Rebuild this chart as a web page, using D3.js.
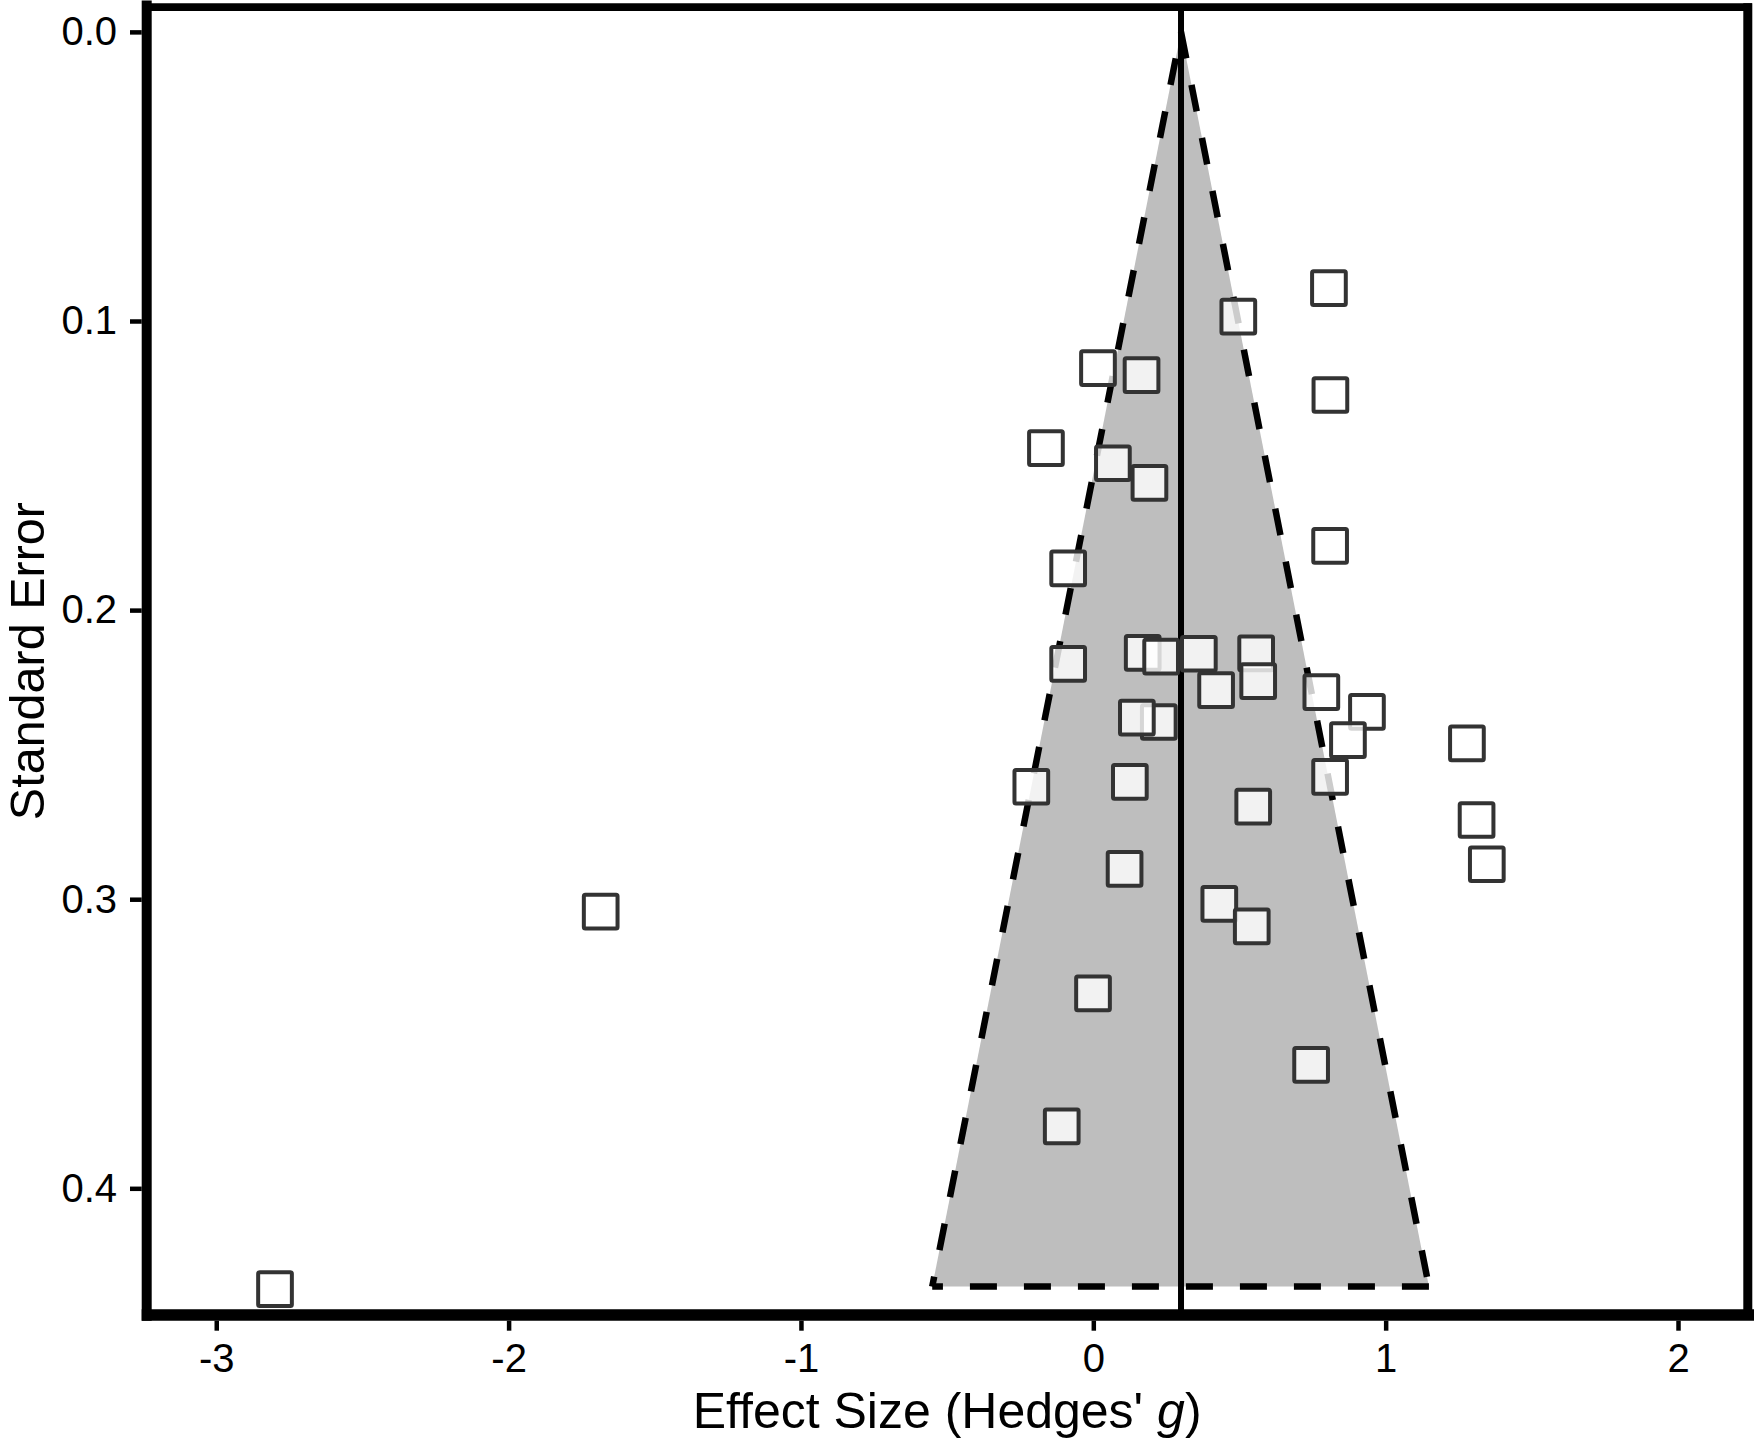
<!DOCTYPE html>
<html>
<head>
<meta charset="utf-8">
<script src="https://cdn.jsdelivr.net/npm/d3@7"></script>
<style>
  html, body { margin: 0; padding: 0; background: #ffffff; }
  svg { display: block; }
  text { font-family: "Liberation Sans", Arial, Helvetica, sans-serif; fill: #000; }
</style>
</head>
<body>
<svg id="chart" width="1754" height="1442"></svg>
<script>
// ---- data ----
const effectSize = [0.806, 0.496, 0.016, 0.165, 0.811, -0.162, 0.067, 0.192, 0.810, -0.086,
                    0.169, 0.232, 0.361, 0.557, -0.086, 0.420, 0.564, 0.780, 0.936, 0.224,
                    0.149, 0.871, 1.278, -0.212, 0.125, 0.810, 0.547, 1.311, 1.346, 0.107,
                    0.431, 0.542, -1.685, -0.001, 0.745, -0.108, -2.799];
const standardError = [0.0886, 0.0985, 0.1163, 0.1187, 0.1256, 0.1440, 0.1492, 0.1560, 0.1778, 0.1856,
                       0.2148, 0.2161, 0.2151, 0.2150, 0.2186, 0.2277, 0.2246, 0.2284, 0.2352, 0.2387,
                       0.2372, 0.2450, 0.2461, 0.2611, 0.2594, 0.2577, 0.2680, 0.2726, 0.2879, 0.2895,
                       0.3016, 0.3094, 0.3043, 0.3326, 0.3573, 0.3786, 0.4349];
const pooledEffect = 0.30;
const funnelSE = [0, 0.434];
const funnelLower = [0.30, -0.551];
const funnelUpper = [0.30, 1.148];
const xTicks = [-3, -2, -1, 0, 1, 2];
const xTickLabels = ["-3", "-2", "-1", "0", "1", "2"];
const yTicks = [0.0, 0.1, 0.2, 0.3, 0.4];
const yTickLabels = ["0.0", "0.1", "0.2", "0.3", "0.4"];

const points = effectSize.map((e, i) => ({ es: e, se: standardError[i] }));

// ---- layout ----
const svg = d3.select("#chart");
const panel = { left: 146.7, right: 1747.5, top: 7.2, bottom: 1315 };

const x = d3.scaleLinear().domain([-3.2379, 2.2377]).range([panel.left, panel.right]);
const y = d3.scaleLinear().domain([-0.00854, 0.44382]).range([panel.top, panel.bottom]);

svg.append("rect").attr("width", 1754).attr("height", 1442).attr("fill", "#fff");

// funnel fill
const funnelPoly = [
  [x(funnelLower[0]), y(funnelSE[0])],
  [x(funnelLower[1]), y(funnelSE[1])],
  [x(funnelUpper[1]), y(funnelSE[1])]
];
svg.append("path")
  .attr("d", d3.line()(funnelPoly) + "Z")
  .attr("fill", "#bebebe");

// pooled effect vertical line
svg.append("line")
  .attr("x1", x(pooledEffect)).attr("x2", x(pooledEffect))
  .attr("y1", panel.top).attr("y2", panel.bottom)
  .attr("stroke", "#000").attr("stroke-width", 6);

// dashed funnel outline
const dashStyle = sel => sel.attr("fill", "none").attr("stroke", "#000")
  .attr("stroke-width", 6.5).attr("stroke-dasharray", "27 27");
svg.append("path")
  .attr("d", d3.line()([[x(funnelLower[0]), y(funnelSE[0])], [x(funnelLower[1]), y(funnelSE[1])]]))
  .call(dashStyle).attr("stroke-dashoffset", 27);
svg.append("path")
  .attr("d", d3.line()([[x(funnelUpper[0]), y(funnelSE[0])], [x(funnelUpper[1]), y(funnelSE[1])]]))
  .call(dashStyle);
svg.append("path")
  .attr("d", d3.line()([[x(funnelUpper[1]), y(funnelSE[1])], [x(funnelLower[1]), y(funnelSE[1])]]))
  .call(dashStyle);

// study squares
const side = 33.7;
svg.append("g").selectAll("rect")
  .data(points)
  .join("rect")
  .attr("x", d => x(d.es) - side / 2)
  .attr("y", d => y(d.se) - side / 2)
  .attr("width", side).attr("height", side)
  .attr("rx", 1.5)
  .attr("fill", "#ffffff").attr("fill-opacity", 0.8)
  .attr("stroke", "#333333").attr("stroke-width", 4)
  .attr("stroke-linejoin", "round");

// frame / axis lines
svg.append("line").attr("x1", 142).attr("x2", 1752).attr("y1", 7.2).attr("y2", 7.2)
  .attr("stroke", "#000").attr("stroke-width", 7.7);
svg.append("line").attr("x1", 1747.8).attr("x2", 1747.8).attr("y1", 3.3).attr("y2", 1315)
  .attr("stroke", "#000").attr("stroke-width", 9);
svg.append("line").attr("x1", 146.7).attr("x2", 146.7).attr("y1", 0.5).attr("y2", 1320.7)
  .attr("stroke", "#000").attr("stroke-width", 10);
svg.append("line").attr("x1", 141.7).attr("x2", 1754).attr("y1", 1315).attr("y2", 1315)
  .attr("stroke", "#000").attr("stroke-width", 11.4);

// x axis
const xAxis = svg.append("g")
  .attr("transform", "translate(0,1320.7)")
  .call(d3.axisBottom(x).tickValues(xTicks)
    .tickFormat((d, i) => xTickLabels[i]).tickSize(10).tickPadding(12.6));
xAxis.select(".domain").remove();
xAxis.selectAll(".tick line").attr("stroke", "#000").attr("stroke-width", 4.5);
xAxis.selectAll(".tick text").attr("font-size", 40)
  .attr("font-family", "'Liberation Sans', Arial, sans-serif").attr("fill", "#000");

// y axis
const yAxis = svg.append("g")
  .attr("transform", "translate(141.7,0)")
  .call(d3.axisLeft(y).tickValues(yTicks)
    .tickFormat((d, i) => yTickLabels[i]).tickSize(11.7).tickPadding(13));
yAxis.select(".domain").remove();
yAxis.selectAll(".tick line").attr("stroke", "#000").attr("stroke-width", 4.5);
yAxis.selectAll(".tick text").attr("font-size", 40)
  .attr("font-family", "'Liberation Sans', Arial, sans-serif").attr("fill", "#000");

// axis titles
const xTitle = svg.append("text")
  .attr("x", (panel.left + panel.right) / 2).attr("y", 1428)
  .attr("text-anchor", "middle").attr("font-size", 50);
xTitle.append("tspan").text("Effect Size (Hedges' ");
xTitle.append("tspan").attr("font-style", "italic").text("g");
xTitle.append("tspan").text(")");

svg.append("text")
  .attr("transform", `translate(44,${(panel.top + panel.bottom) / 2}) rotate(-90)`)
  .attr("text-anchor", "middle").attr("font-size", 48.5)
  .text("Standard Error");
</script>
</body>
</html>
